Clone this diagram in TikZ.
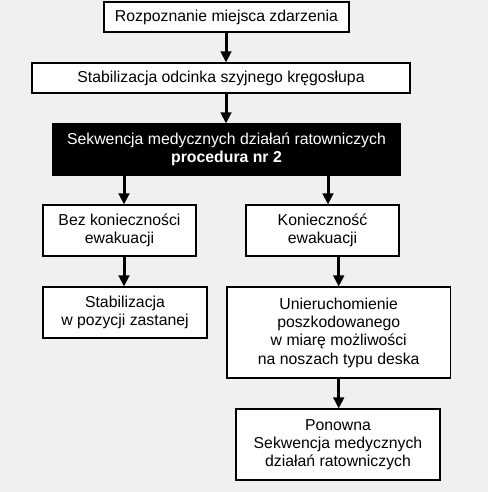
\documentclass[tikz,border=0pt]{standalone}
\usepackage{fontspec}
\setmainfont{Liberation Sans}
\usetikzlibrary{arrows.meta}
\definecolor{bgc}{RGB}{240,240,240}
\tikzset{
  box/.style={draw=black, line width=1.1pt, fill=white, inner sep=0pt, align=center,
    font=\fontsize{15.8}{18.3}\selectfont},
  arr/.style={line width=3pt, -{Triangle[width=10.5pt,length=11pt]}},
}
\begin{document}
\begin{tikzpicture}[x=1pt,y=-1pt]
\useasboundingbox[fill=bgc] (0,0) rectangle (488,492);
\node[box, minimum width=245pt, minimum height=30pt] (b1) at (226.5,17) {Rozpoznanie miejsca zdarzenia};
\node[box, minimum width=378pt, minimum height=30pt] (b2) at (221,78) {Stabilizacja odcinka szyjnego kręgosłupa};
\node[box, fill=black, text=white, minimum width=347pt, minimum height=51pt] (b3) at (226.5,149.5) {Sekwencja medycznych działań ratowniczych\\\textbf{procedura nr 2}};
\node[box, minimum width=153pt, minimum height=51pt] (b4) at (119.5,230.5) {Bez konieczności\\ewakuacji};
\node[box, minimum width=153pt, minimum height=51pt] (b5) at (322.5,230.5) {Konieczność\\ewakuacji};
\node[box, minimum width=164pt, minimum height=51pt] (b6) at (125,312.5) {Stabilizacja\\w pozycji zastanej};
\node[box, minimum width=223.5pt, minimum height=91pt] (b7) at (338.75,332.5) {Unieruchomienie\\poszkodowanego\\w miarę możliwości\\na noszach typu deska};
\node[box, minimum width=204pt, minimum height=71pt] (b8) at (338,444.5) {Ponowna\\Sekwencja medycznych\\działań ratowniczych};
\coordinate (xa) at (226,0);
\coordinate (xl) at (124,0);
\coordinate (xr) at (328,0);
\coordinate (xs) at (338.7,0);
\draw[arr] (xa |- b1.south) -- (xa |- b2.north);
\draw[arr] (xa |- b2.south) -- (xa |- b3.north);
\draw[arr] (xl |- b3.south) -- (xl |- b4.north);
\draw[arr] (xr |- b3.south) -- (xr |- b5.north);
\draw[arr] (xl |- b4.south) -- (xl |- b6.north);
\draw[arr] (xs |- b5.south) -- (xs |- b7.north);
\draw[arr] (xs |- b7.south) -- (xs |- b8.north);
\end{tikzpicture}
\end{document}
